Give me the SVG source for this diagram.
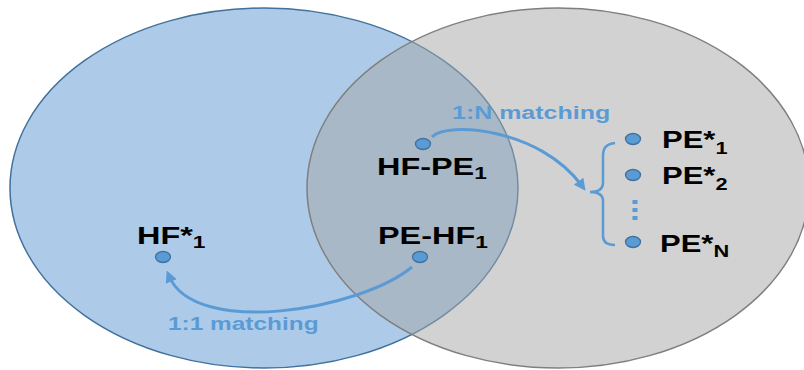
<svg xmlns="http://www.w3.org/2000/svg" width="804" height="370" viewBox="0 0 804 370">
<style>
.lbl{font-family:"Liberation Sans",Arial,sans-serif;font-weight:bold;font-size:23.5px;fill:#000}
.sub{font-size:16.5px}
.ml{font-family:"Liberation Sans",Arial,sans-serif;font-weight:bold;font-size:18.5px;fill:#5b9bd5}
.dot{fill:#5b9bd5;stroke:#41719c;stroke-width:1.3}
.con{fill:none;stroke:#5b9bd5;stroke-width:3}
</style>
<defs>
<marker id="ah" markerWidth="12" markerHeight="12" refX="6" refY="6" orient="auto" markerUnits="userSpaceOnUse" viewBox="0 0 12 12">
<path d="M0,0 L12,6 L0,12 z" fill="#5b9bd5"/>
</marker>
</defs>
<rect width="804" height="370" fill="#fff"/>
<g id="set-hf">
<ellipse cx="264" cy="188" rx="254" ry="180" fill="#adcbe9" stroke="#41719c" stroke-width="1.5"/>
</g>
<g id="set-pe">
<ellipse cx="558" cy="188" rx="251" ry="180" fill="#a6a6a6" fill-opacity="0.5" stroke="#7f7f7f" stroke-width="1.5"/>
</g>
<g id="connectors">
<path class="con" d="M432,137 C446,121 540,128 582,186" marker-end="url(#ah)"/>
<path class="con" d="M412,267 C360,310 195,338 169,276" marker-end="url(#ah)"/>
<path d="M615,143 C606,144 603,148 603,156 L603,183 C603,189 598,192 590,192 C598,192 603,195 603,201 L603,236 C603,242 607,245 615,245" fill="none" stroke="#5b9bd5" stroke-width="2.5"/>
<line x1="635" y1="200" x2="635" y2="221" stroke="#5b9bd5" stroke-width="5" stroke-dasharray="4 4"/>
</g>
<g id="hf-pe1">
<ellipse class="dot" cx="423" cy="144" rx="7.5" ry="5.5"/>
<text class="lbl" transform="translate(377,175) scale(1.38,1)">HF-PE<tspan class="sub" dy="4">1</tspan></text>
</g>
<g id="pe-hf1">
<ellipse class="dot" cx="420" cy="257" rx="7.5" ry="5.5"/>
<text class="lbl" transform="translate(378,244) scale(1.38,1)">PE-HF<tspan class="sub" dy="4">1</tspan></text>
</g>
<g id="hf-star1">
<ellipse class="dot" cx="163" cy="257" rx="7.5" ry="5.5"/>
<text class="lbl" transform="translate(137,244) scale(1.38,1)">HF*<tspan class="sub" dy="4">1</tspan></text>
</g>
<g id="pe-star1">
<ellipse class="dot" cx="633" cy="139" rx="7.5" ry="5.5"/>
<text class="lbl" transform="translate(662,148) scale(1.32,1)">PE*<tspan class="sub" dy="6">1</tspan></text>
</g>
<g id="pe-star2">
<ellipse class="dot" cx="633" cy="175" rx="7.5" ry="5.5"/>
<text class="lbl" transform="translate(662,184) scale(1.32,1)">PE*<tspan class="sub" dy="6">2</tspan></text>
</g>
<g id="pe-starN">
<ellipse class="dot" cx="633" cy="242" rx="7.5" ry="5.5"/>
<text class="lbl" transform="translate(660,252) scale(1.32,1)">PE*<tspan class="sub" dy="5">N</tspan></text>
</g>
<g id="label-1n">
<text class="ml" transform="translate(452,119) scale(1.35,1)">1:N matching</text>
</g>
<g id="label-11">
<text class="ml" transform="translate(168,330) scale(1.32,1)">1:1 matching</text>
</g>
</svg>
